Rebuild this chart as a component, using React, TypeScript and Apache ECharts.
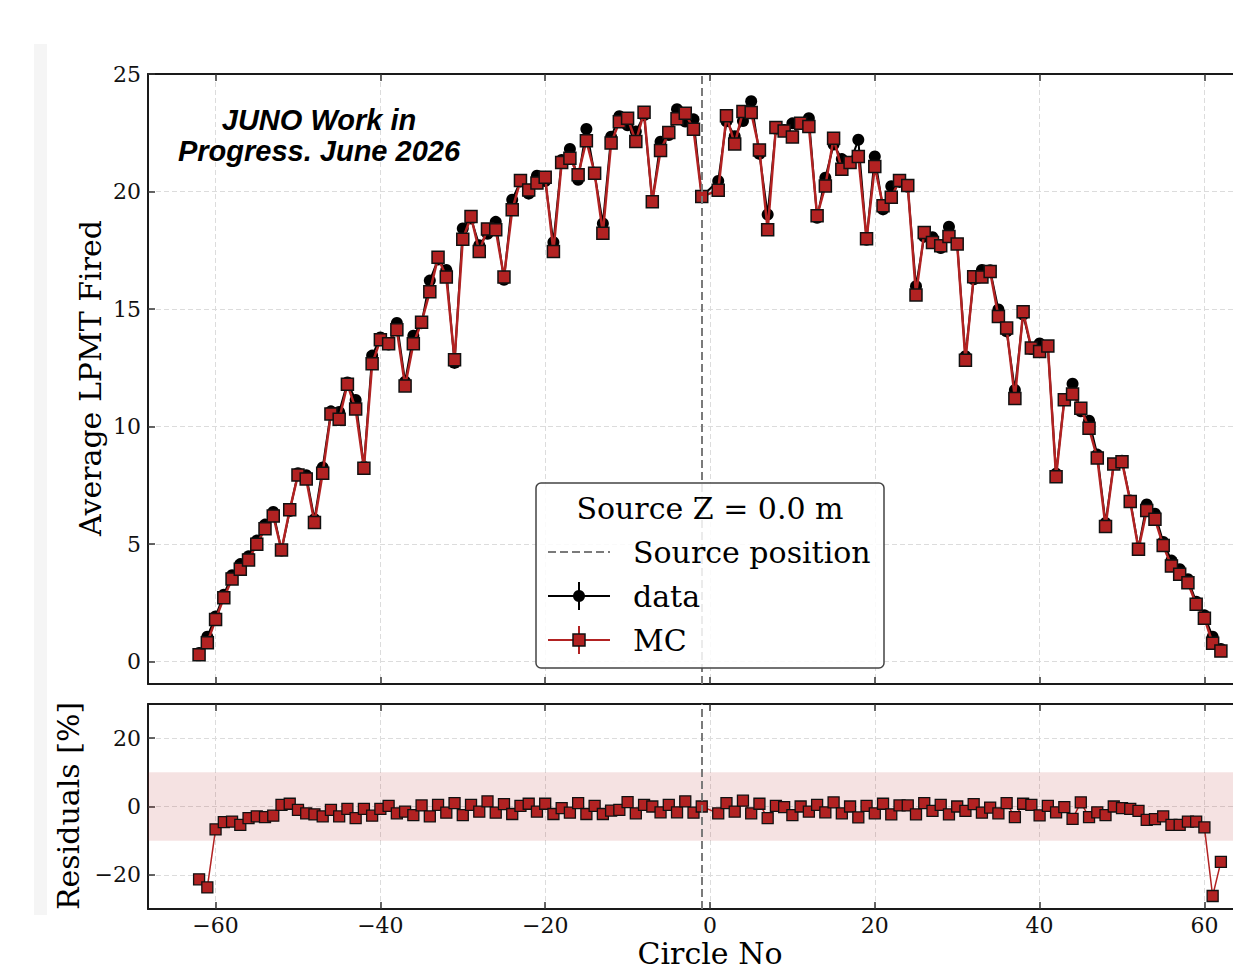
import React, { useEffect, useRef } from "react";
import * as echarts from "echarts";

// Circle numbers (no circle 0)
const CIRCLE_NO = [
  -62, -61, -60, -59, -58, -57, -56, -55, -54, -53, -52, -51, -50, -49, -48, -47, -46, -45, -44, -43,
  -42, -41, -40, -39, -38, -37, -36, -35, -34, -33, -32, -31, -30, -29, -28, -27, -26, -25, -24, -23,
  -22, -21, -20, -19, -18, -17, -16, -15, -14, -13, -12, -11, -10, -9, -8, -7, -6, -5, -4, -3, -2, -1,
  1, 2, 3, 4, 5, 6, 7, 8, 9, 10, 11, 12, 13, 14, 15, 16, 17, 18, 19, 20,
  21, 22, 23, 24, 25, 26, 27, 28, 29, 30, 31, 32, 33, 34, 35, 36, 37, 38, 39, 40,
  41, 42, 43, 44, 45, 46, 47, 48, 49, 50, 51, 52, 53, 54, 55, 56, 57, 58, 59, 60, 61, 62,
];

const DATA_FIRED = [
  0.37, 1.06, 1.92, 2.85, 3.68, 4.15, 4.48, 5.15, 5.83, 6.37,
  4.73, 6.41, 8.02, 7.93, 6.06, 8.26, 10.65, 10.62, 11.88, 11.13,
  8.29, 13.02, 13.79, 13.49, 14.41, 11.91, 13.87, 14.40, 16.21, 17.11,
  16.66, 12.71, 18.43, 18.85, 17.72, 18.20, 18.71, 16.25, 19.65, 20.43,
  19.91, 20.67, 20.45, 17.84, 21.34, 21.81, 20.50, 22.66, 20.74, 18.64,
  22.33, 23.20, 22.82, 22.55, 23.25, 19.57, 22.12, 22.40, 23.50, 22.98,
  23.07, 19.79,
  20.45, 22.99, 22.35, 23.00, 23.84, 21.60, 19.02, 22.67, 22.62, 22.90,
  22.91, 23.12, 18.88, 20.59, 22.00, 21.38, 21.23, 22.20, 17.95, 21.49,
  19.24, 20.23, 20.41, 20.20, 15.97, 18.08, 18.06, 17.60, 18.50, 17.77,
  12.99, 16.27, 16.66, 16.65, 14.98, 14.05, 11.56, 14.77, 13.30, 13.54,
  13.40, 8.00, 11.16, 11.82, 10.65, 10.25, 8.81, 5.90, 8.41, 8.55,
  6.86, 4.84, 6.69, 6.29, 5.09, 4.30, 3.93, 3.51, 2.55, 1.97,
  1.06, 0.54,
];

const MC_FIRED = [
  0.29, 0.81, 1.79, 2.72, 3.52, 3.93, 4.33, 5.0, 5.65, 6.2,
  4.75, 6.46, 7.94, 7.77, 5.92, 8.02, 10.54, 10.31, 11.8, 10.75,
  8.23, 12.67, 13.69, 13.52, 14.12, 11.73, 13.52, 14.44, 15.74, 17.2,
  16.36, 12.84, 17.97, 18.94, 17.45, 18.41, 18.37, 16.36, 19.22, 20.47,
  20.07, 20.36, 20.61, 17.45, 21.23, 21.42, 20.71, 22.16, 20.78, 18.23,
  22.06, 22.97, 23.12, 22.13, 23.37, 19.57, 21.75, 22.51, 23.1, 23.33,
  22.65, 19.79,
  20.05, 23.22, 22.02, 23.4, 23.36, 21.77, 18.37, 22.72, 22.58, 22.32,
  22.91, 22.77, 18.97, 20.24, 22.27, 20.95, 21.23, 21.49, 17.99, 21.06,
  19.39, 19.76, 20.47, 20.26, 15.6, 18.26, 17.83, 17.69, 18.09, 17.77,
  12.82, 16.38, 16.36, 16.6, 14.68, 14.19, 11.2, 14.89, 13.34, 13.19,
  13.43, 7.87, 11.14, 11.39, 10.78, 9.93, 8.66, 5.75, 8.41, 8.51,
  6.81, 4.78, 6.43, 6.06, 4.94, 4.07, 3.72, 3.36, 2.44, 1.85,
  0.78, 0.45,
];

const RESIDUALS = [
  -21.3, -23.7, -6.7, -4.6, -4.4, -5.4, -3.4, -2.9, -3.1, -2.7,
  0.5, 0.8, -1.0, -2.0, -2.3, -2.9, -1.0, -2.9, -0.7, -3.4,
  -0.7, -2.7, -0.7, 0.2, -2.0, -1.5, -2.5, 0.3, -2.9, 0.5,
  -1.8, 1.0, -2.5, 0.5, -1.5, 1.5, -1.8, 0.7, -2.2, 0.2,
  0.8, -1.5, 0.8, -2.2, -0.5, -1.8, 1.0, -2.2, 0.2, -2.2,
  -1.2, -1.0, 1.3, -2.0, 0.5, 0.0, -1.7, 0.5, -1.7, 1.5,
  -1.8, 0.0,
  -2.0, 1.0, -1.5, 1.7, -2.0, 0.8, -3.4, 0.2, -0.2, -2.5,
  0.0, -1.5, 0.5, -1.7, 1.2, -2.0, 0.0, -3.2, 0.2, -2.0,
  0.8, -2.3, 0.3, 0.3, -2.3, 1.0, -1.3, 0.5, -2.3, 0.0,
  -1.3, 0.7, -1.8, -0.3, -2.0, 1.0, -3.1, 0.8, 0.5, -2.6,
  0.2, -1.7, -0.2, -3.6, 1.2, -3.1, -1.7, -2.5, 0.0, -0.5,
  -0.7, -1.3, -3.9, -3.7, -2.9, -5.4, -5.4, -4.4, -4.4, -6.1,
  -26.2, -16.2,
];

const X_TICKS = [-60, -40, -20, 0, 20, 40, 60];
const Y_TICKS_TOP = [0, 5, 10, 15, 20, 25];
const Y_TICKS_RES = [-20, 0, 20];
const SOURCE_POSITION = -1;
const RES_BAND = [-10, 10];

const SERIF = '"DejaVu Serif", serif';
const RED = "#b22222";
const X_MIN = -68.2;
const X_MAX = 63.47;

const fmt = (v: number) => (v < 0 ? "\u2212" + Math.abs(v) : String(v));

const gridLine = { show: true, lineStyle: { color: "#dcdcdc", type: [5, 3] as any, width: 1 } };

function xAxis(gridIndex: number, position: string, labels: boolean, split: boolean) {
  return {
    type: "value",
    gridIndex,
    position,
    min: X_MIN,
    max: X_MAX,
    axisLine: { show: true, onZero: false, lineStyle: { color: "#1a1a1a", width: 2 } },
    axisTick: { show: true, inside: true, length: 7, customValues: X_TICKS, lineStyle: { color: "#333", width: 1.5 } },
    axisLabel: {
      show: labels,
      customValues: X_TICKS,
      formatter: fmt,
      fontFamily: SERIF,
      fontSize: 22,
      color: "#111",
      margin: 5,
    },
    splitLine: split ? gridLine : { show: false },
  };
}

function yAxis(gridIndex: number, min: number, max: number, ticks: number[]) {
  return {
    type: "value",
    gridIndex,
    position: "left",
    min,
    max,
    axisLine: { show: true, onZero: false, lineStyle: { color: "#1a1a1a", width: 2 } },
    axisTick: { show: true, inside: true, length: 7, customValues: ticks, lineStyle: { color: "#333", width: 1.5 } },
    axisLabel: {
      customValues: ticks,
      formatter: fmt,
      fontFamily: SERIF,
      fontSize: 22,
      color: "#111",
      margin: 7,
    },
    splitLine: gridLine,
  };
}

const pairs = (vals: number[]) => CIRCLE_NO.map((x, i) => [x, vals[i]]);

const sourceLine = {
  silent: true,
  symbol: "none",
  label: { show: false },
  lineStyle: { color: "#7a7a7a", type: [8, 4], width: 2 },
  data: [{ xAxis: SOURCE_POSITION }],
};

const txt = (text: string, x: number, y: number, size: number, extra: any = {}) => ({
  type: "text",
  x,
  y,
  z: 100,
  ...extra,
  style: {
    text,
    fill: "#000",
    fontFamily: SERIF,
    fontSize: size,
    align: extra.align || "left",
    verticalAlign: "middle",
    textAlign: extra.align || "left",
    textVerticalAlign: "middle",
    ...(extra.style || {}),
  },
});

export default function App() {
  const ref = useRef<HTMLDivElement>(null);

  useEffect(() => {
    if (!ref.current) return;
    const chart = echarts.init(ref.current, null, { renderer: "svg" });
    const option: any = {
      animation: false,
      backgroundColor: "#fff",
      grid: [
        { left: 148, top: 74, width: 1085, height: 610, outerBoundsMode: "none", containLabel: false },
        { left: 148, top: 704, width: 1085, height: 205, outerBoundsMode: "none", containLabel: false },
      ],
      xAxis: [
        xAxis(0, "bottom", false, true),
        xAxis(0, "top", false, false),
        xAxis(1, "bottom", true, true),
        xAxis(1, "top", false, false),
      ],
      yAxis: [yAxis(0, -0.95, 25, Y_TICKS_TOP), yAxis(1, -30, 30, Y_TICKS_RES)],
      series: [
        {
          name: "data",
          type: "line",
          xAxisIndex: 0,
          yAxisIndex: 0,
          data: pairs(DATA_FIRED),
          symbol: "circle",
          symbolSize: 12,
          itemStyle: { color: "#000" },
          lineStyle: { color: "#000", width: 2 },
          z: 2,
          markLine: sourceLine,
        },
        {
          name: "MC",
          type: "line",
          xAxisIndex: 0,
          yAxisIndex: 0,
          data: pairs(MC_FIRED),
          symbol: "rect",
          symbolSize: 12,
          itemStyle: { color: RED, borderColor: "#111", borderWidth: 1.5 },
          lineStyle: { color: RED, width: 2.5 },
          z: 3,
        },
        {
          name: "residual",
          type: "line",
          xAxisIndex: 2,
          yAxisIndex: 1,
          data: pairs(RESIDUALS),
          symbol: "rect",
          symbolSize: 11,
          itemStyle: { color: RED, borderColor: "#111", borderWidth: 1.3 },
          lineStyle: { color: RED, width: 1.5 },
          z: 3,
          markLine: sourceLine,
          markArea: {
            silent: true,
            itemStyle: { color: "rgba(178,34,34,0.13)" },
            data: [[{ yAxis: RES_BAND[0] }, { yAxis: RES_BAND[1] }]],
          },
        },
      ],
      graphic: {
        elements: [
          { type: "rect", shape: { x: 34, y: 44, width: 13, height: 871 }, style: { fill: "#f5f5f5" }, z: -10 },
          txt("JUNO Work in", 319, 120, 29, {
            align: "center",
            style: { fontFamily: '"Liberation Sans", Arial, sans-serif', fontWeight: "bold", fontStyle: "italic" },
          }),
          txt("Progress. June 2026", 319, 151, 29, {
            align: "center",
            style: { fontFamily: '"Liberation Sans", Arial, sans-serif', fontWeight: "bold", fontStyle: "italic" },
          }),
          txt("Average LPMT Fired", 90, 378, 30, { align: "center", rotation: Math.PI / 2 }),
          txt("Residuals [%]", 68, 806, 30, { align: "center", rotation: Math.PI / 2 }),
          txt("Circle No", 710, 953, 30, { align: "center" }),
          {
            type: "rect",
            z: 90,
            shape: { x: 536, y: 483, width: 348, height: 185, r: 5 },
            style: { fill: "rgba(255,255,255,0.85)", stroke: "#444", lineWidth: 1.5 },
          },
          txt("Source Z = 0.0 m", 710, 508, 30, { align: "center" }),
          {
            type: "line",
            z: 100,
            shape: { x1: 548, y1: 552, x2: 610, y2: 552 },
            style: { stroke: "#7a7a7a", lineWidth: 2, lineDash: [8, 4] },
          },
          txt("Source position", 633, 552, 30),
          { type: "line", z: 100, shape: { x1: 548, y1: 596, x2: 610, y2: 596 }, style: { stroke: "#000", lineWidth: 2 } },
          { type: "line", z: 100, shape: { x1: 579, y1: 582, x2: 579, y2: 610 }, style: { stroke: "#000", lineWidth: 2 } },
          { type: "circle", z: 101, shape: { cx: 579, cy: 596, r: 6 }, style: { fill: "#000" } },
          txt("data", 633, 596, 30),
          { type: "line", z: 100, shape: { x1: 548, y1: 640, x2: 610, y2: 640 }, style: { stroke: RED, lineWidth: 2 } },
          { type: "line", z: 100, shape: { x1: 579, y1: 626, x2: 579, y2: 654 }, style: { stroke: RED, lineWidth: 2 } },
          {
            type: "rect",
            z: 101,
            shape: { x: 573, y: 634, width: 12, height: 12 },
            style: { fill: RED, stroke: "#111", lineWidth: 1.5 },
          },
          txt("MC", 633, 640, 30),
        ],
      },
    };
    chart.setOption(option);
    return () => chart.dispose();
  }, []);

  return (
    <div
      ref={ref}
      style={{ position: "fixed", left: 0, top: 0, width: 1233, height: 966, background: "#fff" }}
    />
  );
}
